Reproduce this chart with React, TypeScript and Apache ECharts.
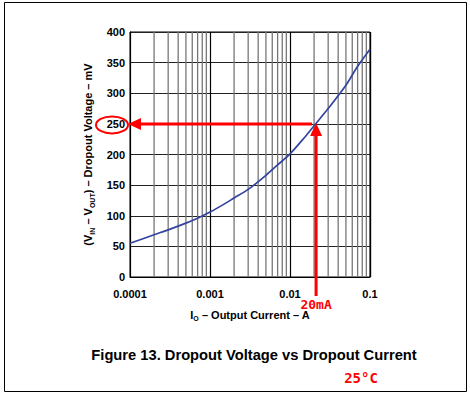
import React, { useEffect, useRef } from "react";
import * as echarts from "echarts";

const currents = [0.0001, 0.0002, 0.0003, 0.0005, 0.0007, 0.001, 0.0015, 0.002, 0.003, 0.005, 0.007, 0.01, 0.015, 0.02, 0.03, 0.05, 0.07, 0.1];
const dropoutMv = [55, 69, 77, 88, 96, 106, 119, 129, 143, 166, 183, 201, 227, 247, 275, 313, 344, 372];
const xTickLabels = ["0.0001", "0.001", "0.01", "0.1"];
const minorGridCurrents = [
  0.0002, 0.0003, 0.0004, 0.0005, 0.0006, 0.0007, 0.0008, 0.0009,
  0.002, 0.003, 0.004, 0.005, 0.006, 0.007, 0.008, 0.009,
  0.02, 0.03, 0.04, 0.05, 0.06, 0.07, 0.08, 0.09,
];
const yMin = 0;
const yMax = 400;
const yStep = 50;
const markerCurrent = 0.02;
const markerVoltage = 250;
const markerLabel = "20mA";
const tempLabel = "25°C";
const figureTitle = "Figure 13. Dropout Voltage vs Dropout Current";

const FONT = '"Liberation Sans", Arial, sans-serif';
const RED = "#ff0000";

export default function App() {
  const ref = useRef<HTMLDivElement>(null);
  useEffect(() => {
    if (!ref.current) return;
    const chart = echarts.init(ref.current, undefined, { renderer: "svg" });
    const sub = { fontSize: 7, fontWeight: "bold", fontFamily: FONT, color: "#000", verticalAlign: "bottom", padding: [0, 0, -2, 0] };
    const norm = { fontSize: 11, fontWeight: "bold", fontFamily: FONT, color: "#000" };
    chart.setOption({
      animation: false,
      grid: { left: 130, right: 100, top: 32, bottom: 117, show: true, borderColor: "#000", borderWidth: 1 },
      xAxis: {
        type: "log",
        logBase: 10,
        min: 0.0001,
        max: 0.1,
        axisLine: { show: true, lineStyle: { color: "#000", width: 1 } },
        axisTick: { show: false },
        splitLine: { show: true, lineStyle: { color: "#000", width: 1.2 } },
        axisLabel: {
          color: "#000",
          fontWeight: "bold",
          fontSize: 11,
          fontFamily: FONT,
          margin: 11,
          formatter: (v: number) => xTickLabels[Math.round(Math.log10(v)) + 4] ?? "",
        },
        name: "{n|I}{s|O}{n| – Output Current – A}",
        nameLocation: "middle",
        nameGap: 32,
        nameTextStyle: { rich: { n: norm, s: sub } },
      },
      yAxis: {
        type: "value",
        min: yMin,
        max: yMax,
        interval: yStep,
        axisLine: { show: true, lineStyle: { color: "#000", width: 1 } },
        axisTick: { show: false },
        splitLine: { show: true, lineStyle: { color: "#222", width: 1.2 } },
        axisLabel: { color: "#000", fontWeight: "bold", fontSize: 11, fontFamily: FONT, margin: 5 },
        name: "{n|(V}{s|IN}{n| – V}{s|OUT}{n|) – Dropout Voltage – mV}",
        nameLocation: "middle",
        nameGap: 33,
        nameTextStyle: { rich: { n: norm, s: sub } },
      },
      series: [
        {
          type: "custom",
          silent: true,
          data: minorGridCurrents.map((v) => [v, yMin]),
          encode: { x: 0, y: 1 },
          renderItem: (_params: any, api: any) => {
            const v = api.value(0);
            const a = api.coord([v, yMin]);
            const b = api.coord([v, yMax]);
            return {
              type: "line",
              shape: { x1: a[0], y1: a[1], x2: b[0], y2: b[1] },
              style: { stroke: "#777", lineWidth: 1.3 },
            };
          },
          z: 1,
        },
        {
          type: "line",
          data: currents.map((c, i) => [c, dropoutMv[i]]),
          smooth: 0.3,
          showSymbol: false,
          symbol: "none",
          lineStyle: { color: "#3344a0", width: 1.7 },
          z: 5,
        },
      ],
    });

    const p = chart.convertToPixel({ xAxisIndex: 0, yAxisIndex: 0 }, [markerCurrent, markerVoltage]) as number[];
    const l = chart.convertToPixel({ xAxisIndex: 0, yAxisIndex: 0 }, [0.0001, markerVoltage]) as number[];
    const b = chart.convertToPixel({ xAxisIndex: 0, yAxisIndex: 0 }, [markerCurrent, yMin]) as number[];
    const px = p[0] + 2;
    const py = p[1];
    chart.setOption({
      graphic: [
        { type: "rect", shape: { x: 4.5, y: 2.5, width: 462, height: 389 }, style: { fill: "none", stroke: "#000", lineWidth: 1 }, z: 0 },
        { type: "line", shape: { x1: px - 4, y1: py, x2: l[0] + 10, y2: py }, style: { stroke: RED, lineWidth: 3 }, z: 100 },
        { type: "polygon", shape: { points: [[l[0] - 2, py], [l[0] + 11, py - 6], [l[0] + 11, py + 6]] }, style: { fill: RED }, z: 100 },
        { type: "line", shape: { x1: px, y1: b[1] + 19, x2: px, y2: py + 10 }, style: { stroke: RED, lineWidth: 3 }, z: 100 },
        { type: "polygon", shape: { points: [[px, py - 1], [px - 6, py + 12], [px + 6, py + 12]] }, style: { fill: RED }, z: 100 },
        { type: "ellipse", shape: { cx: l[0] - 18, cy: py + 1, rx: 16, ry: 8.5 }, style: { fill: "none", stroke: RED, lineWidth: 2 }, z: 100 },
        { type: "text", x: px, y: b[1] + 27, style: { text: markerLabel, fill: RED, font: 'bold 13px "DejaVu Sans Mono", monospace', align: "center", verticalAlign: "middle" }, z: 100 },
        { type: "text", x: 254, y: 355, style: { text: figureTitle, fill: "#000", font: `bold 14.7px ${FONT}`, align: "center", verticalAlign: "middle" }, z: 100 },
        { type: "text", x: 361, y: 378, style: { text: tempLabel, fill: RED, font: 'bold 14px "DejaVu Sans Mono", monospace', align: "center", verticalAlign: "middle" }, z: 100 },
      ],
    });
    return () => chart.dispose();
  }, []);
  return <div ref={ref} style={{ position: "fixed", left: 0, top: 0, width: 470, height: 394, background: "#fff" }} />;
}
